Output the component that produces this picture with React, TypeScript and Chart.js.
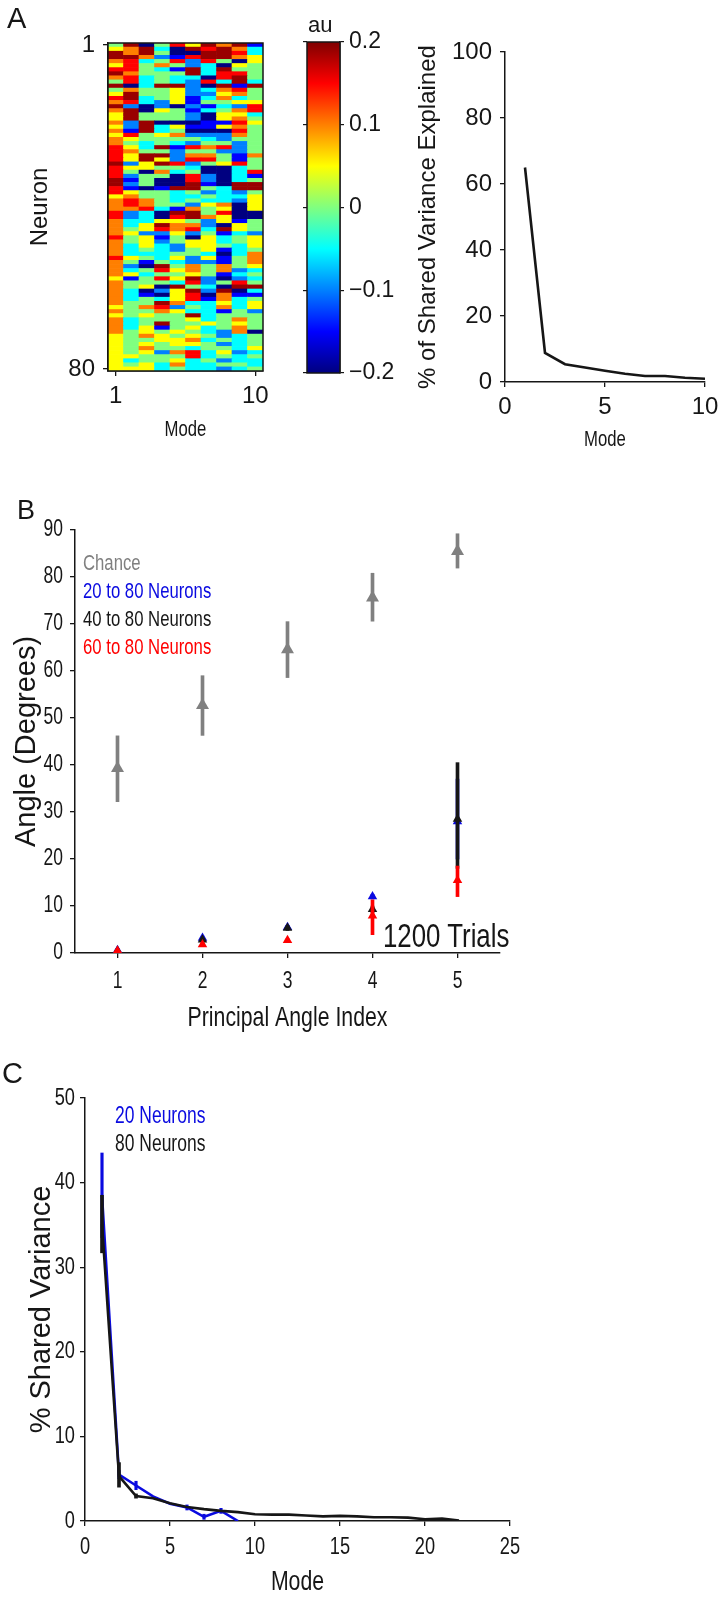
import React, { useEffect, useRef } from 'react';
import { Chart, registerables } from 'chart.js';

Chart.register(...registerables);

// ---------------- DATA ----------------
// Panel A (left): loading matrix, 80 neurons x 10 modes (au)
const neuronLoadings: number[][] = [
  [0.0, 0.19, -0.2, 0.0, 0.15, 0.05, 0.19, 0.1, 0.19, -0.15],
  [0.05, 0.1, 0.19, -0.05, -0.2, 0.19, 0.15, 0.19, 0.1, -0.05],
  [0.19, 0.1, 0.19, 0.0, -0.2, -0.2, 0.19, 0.19, 0.15, -0.05],
  [0.19, 0.19, 0.1, -0.1, -0.15, 0.15, 0.19, 0.19, 0.1, 0.05],
  [0.1, 0.15, -0.05, 0.0, 0.15, -0.1, 0.15, 0.0, -0.2, 0.05],
  [0.05, 0.15, 0.0, 0.1, 0.0, -0.1, -0.05, -0.2, 0.05, 0.0],
  [0.15, 0.15, 0.0, -0.05, -0.15, 0.19, -0.05, 0.19, 0.0, 0.0],
  [0.19, 0.1, 0.0, 0.0, 0.0, 0.19, -0.05, 0.15, 0.15, 0.0],
  [0.1, 0.15, -0.05, 0.0, -0.05, -0.05, -0.2, 0.15, 0.19, 0.0],
  [0.0, 0.15, -0.05, 0.0, -0.05, -0.1, 0.15, -0.05, 0.19, -0.05],
  [0.19, -0.2, -0.05, 0.19, 0.19, -0.1, -0.2, 0.19, -0.15, 0.19],
  [0.0, 0.1, 0.0, 0.0, 0.05, -0.1, -0.05, 0.1, 0.15, 0.0],
  [0.05, 0.19, 0.0, 0.0, 0.05, -0.1, -0.1, 0.05, 0.1, 0.0],
  [0.15, 0.19, -0.05, 0.0, 0.05, -0.15, -0.05, 0.1, -0.05, 0.0],
  [0.1, 0.15, -0.05, -0.1, 0.05, -0.15, 0.0, 0.0, 0.05, 0.05],
  [0.19, -0.1, -0.2, -0.1, -0.2, -0.1, -0.15, -0.05, -0.1, 0.15],
  [0.1, 0.19, -0.2, 0.05, 0.0, -0.15, -0.05, 0.0, 0.1, 0.15],
  [0.05, 0.19, 0.0, 0.0, 0.0, -0.1, -0.2, 0.05, 0.05, -0.05],
  [0.05, 0.19, 0.0, 0.0, 0.0, -0.1, -0.2, 0.05, 0.1, 0.0],
  [0.1, -0.1, 0.19, -0.2, -0.2, -0.2, -0.15, -0.15, 0.15, 0.05],
  [0.05, -0.1, 0.19, -0.05, 0.05, -0.15, -0.15, 0.05, 0.1, 0.0],
  [0.1, -0.15, 0.19, -0.05, 0.0, -0.2, -0.2, -0.2, 0.15, 0.0],
  [0.05, 0.15, 0.0, 0.05, 0.1, -0.1, -0.1, -0.1, 0.1, 0.0],
  [0.1, 0.05, 0.0, 0.0, 0.0, 0.0, -0.05, -0.1, 0.0, 0.0],
  [0.1, 0.0, -0.05, 0.0, -0.05, -0.1, 0.0, 0.0, -0.1, 0.0],
  [0.15, 0.05, -0.05, 0.19, -0.15, 0.15, 0.1, 0.15, -0.1, 0.0],
  [0.15, 0.1, 0.0, 0.0, -0.1, 0.0, 0.0, -0.1, -0.1, 0.0],
  [0.15, 0.05, 0.19, 0.19, -0.1, 0.1, 0.1, 0.0, -0.15, 0.1],
  [0.15, 0.05, 0.19, 0.05, -0.1, 0.15, 0.15, 0.0, -0.15, 0.0],
  [0.19, -0.1, 0.05, 0.19, 0.15, -0.1, 0.0, 0.05, 0.15, 0.0],
  [0.15, 0.05, 0.05, 0.0, 0.0, -0.05, -0.2, -0.2, -0.05, 0.0],
  [0.15, 0.0, -0.2, 0.1, -0.05, 0.0, -0.2, -0.2, -0.05, 0.15],
  [0.15, -0.1, 0.0, 0.0, -0.2, 0.15, -0.1, -0.2, -0.05, -0.15],
  [0.19, -0.15, 0.0, -0.2, -0.2, 0.15, -0.1, -0.2, -0.05, 0.0],
  [0.19, -0.1, 0.0, -0.2, -0.2, 0.19, -0.15, -0.2, 0.19, 0.19],
  [0.15, -0.15, -0.2, -0.15, 0.19, 0.19, 0.0, -0.05, 0.19, 0.19],
  [0.15, 0.05, 0.0, 0.0, -0.05, 0.0, -0.1, -0.05, -0.1, 0.0],
  [0.05, 0.1, 0.0, 0.0, -0.05, -0.05, 0.0, -0.05, -0.05, 0.05],
  [0.1, 0.15, 0.1, 0.0, -0.05, 0.0, -0.05, -0.05, -0.1, 0.05],
  [0.1, 0.15, 0.1, 0.0, 0.0, -0.1, 0.05, 0.1, -0.2, 0.05],
  [0.1, 0.1, 0.15, -0.05, -0.15, 0.1, 0.0, 0.05, -0.2, 0.05],
  [0.15, -0.1, -0.05, -0.2, 0.19, 0.19, 0.0, 0.15, -0.2, -0.2],
  [0.15, -0.1, -0.05, -0.2, 0.15, 0.19, 0.1, 0.05, -0.2, -0.2],
  [0.1, -0.05, -0.05, 0.05, 0.05, 0.0, -0.1, 0.05, -0.15, 0.0],
  [0.1, -0.05, 0.05, 0.19, 0.1, 0.1, -0.1, -0.2, 0.05, 0.0],
  [0.1, 0.0, 0.05, 0.15, 0.1, 0.15, -0.05, 0.19, 0.05, 0.0],
  [0.1, 0.05, -0.1, -0.1, 0.05, -0.1, 0.0, -0.15, -0.05, -0.1],
  [0.15, 0.0, 0.05, -0.15, 0.0, -0.2, 0.05, -0.05, 0.0, 0.05],
  [0.1, 0.0, 0.05, -0.1, 0.0, 0.05, 0.05, -0.05, 0.0, 0.05],
  [0.1, -0.05, 0.05, -0.05, -0.1, 0.05, 0.05, 0.0, -0.05, 0.05],
  [0.1, -0.05, 0.0, -0.05, -0.1, 0.0, 0.05, -0.15, -0.05, 0.0],
  [0.1, -0.05, -0.05, -0.05, 0.0, 0.0, -0.05, -0.2, -0.05, 0.1],
  [0.15, 0.05, 0.0, -0.05, 0.05, -0.1, 0.05, -0.15, 0.0, 0.1],
  [0.1, 0.0, -0.15, 0.0, -0.05, -0.1, -0.1, -0.15, 0.0, 0.1],
  [0.1, -0.1, -0.2, 0.19, 0.0, 0.1, 0.0, 0.1, 0.0, 0.05],
  [0.1, -0.05, 0.0, 0.15, 0.05, 0.1, 0.0, 0.1, -0.1, -0.05],
  [0.1, 0.05, -0.05, 0.0, 0.0, 0.05, 0.0, -0.15, -0.05, 0.0],
  [0.05, -0.15, 0.0, 0.15, 0.05, 0.19, -0.1, -0.2, -0.1, -0.05],
  [0.1, 0.0, 0.0, 0.0, -0.05, 0.15, -0.1, 0.0, 0.15, 0.0],
  [0.1, 0.0, 0.05, -0.2, 0.19, 0.0, -0.05, -0.2, 0.19, 0.19],
  [0.1, -0.05, -0.2, -0.1, 0.05, 0.19, -0.1, 0.19, -0.2, -0.05],
  [0.1, -0.05, -0.15, -0.2, 0.05, 0.15, -0.2, 0.1, -0.15, -0.15],
  [0.1, -0.05, 0.0, -0.05, 0.05, 0.15, -0.15, 0.1, -0.05, 0.0],
  [0.1, 0.0, 0.0, 0.19, 0.1, -0.05, -0.05, 0.05, -0.05, 0.05],
  [0.05, 0.0, 0.1, 0.15, -0.1, 0.0, -0.05, 0.1, -0.05, 0.05],
  [0.1, 0.0, 0.0, 0.1, 0.05, -0.05, -0.05, -0.15, 0.0, -0.1],
  [0.05, 0.0, 0.05, 0.0, 0.0, 0.19, -0.05, 0.0, 0.0, 0.0],
  [0.1, -0.05, 0.0, 0.0, 0.0, 0.05, -0.05, 0.0, 0.1, 0.0],
  [0.1, -0.05, 0.0, 0.19, 0.0, 0.0, 0.05, 0.0, 0.05, 0.0],
  [0.1, -0.05, 0.05, -0.15, 0.0, 0.05, -0.05, 0.0, 0.1, 0.0],
  [0.1, 0.0, 0.05, 0.0, 0.05, 0.0, -0.05, -0.1, 0.1, -0.2],
  [0.05, 0.0, 0.1, 0.05, 0.0, 0.05, 0.0, -0.1, -0.05, 0.0],
  [0.05, 0.0, 0.0, 0.05, 0.05, 0.1, -0.05, 0.0, -0.05, 0.0],
  [0.05, 0.0, 0.05, 0.0, 0.05, 0.05, 0.0, -0.1, -0.05, 0.0],
  [0.05, 0.0, 0.1, 0.0, 0.0, -0.05, 0.0, 0.0, -0.05, 0.05],
  [0.05, 0.0, 0.05, -0.1, 0.1, 0.15, -0.05, 0.05, -0.1, -0.05],
  [0.05, 0.05, 0.0, 0.0, 0.0, 0.15, -0.05, 0.0, -0.05, 0.0],
  [0.05, -0.05, 0.0, 0.0, 0.05, -0.05, 0.0, -0.1, -0.05, -0.05],
  [0.05, 0.0, 0.05, -0.05, 0.1, -0.05, -0.05, 0.0, 0.0, -0.05],
  [0.05, 0.05, 0.05, -0.05, 0.0, -0.05, -0.05, -0.1, -0.05, 0.0],
];
const heatXTicks = [1, 10];
const heatYTicks = [1, 80];
const colorbarTicks = [-0.2, -0.1, 0, 0.1, 0.2];

// Panel A (right)
const modes = [1, 2, 3, 4, 5, 6, 7, 8, 9, 10];
const sharedVarExplained = [65, 8.8, 5.4, 4.4, 3.4, 2.5, 1.8, 1.8, 1.3, 1.0];

// Panel B
const angleIndex = [1, 2, 3, 4, 5];
const chanceMean = [39.3, 52.7, 64.6, 75.6, 85.5];
const chanceLo = [32.2, 46.3, 58.6, 70.6, 81.9];
const chanceHi = [46.2, 59.0, 70.5, 80.8, 89.2];
const n20Mean = [0.6, 3.2, 5.5, 12.0, 28.0];
const n20Lo = [0.3, 2.8, 5.1, 11.5, 20.0];
const n20Hi = [0.9, 3.6, 5.9, 12.5, 37.0];
const n40Mean = [0.4, 2.8, 5.3, 9.3, 28.5];
const n40Lo = [0.2, 2.4, 4.8, 8.6, 18.0];
const n40Hi = [0.6, 3.2, 5.8, 10.0, 40.5];
const n60Mean = [0.5, 1.8, 2.7, 7.9, 15.5];
const n60Lo = [0.3, 1.4, 2.3, 3.9, 12.0];
const n60Hi = [0.7, 2.2, 3.1, 11.3, 18.5];

// Panel C
const modes20 = [1, 2, 3, 4, 5, 6, 7, 8, 9];
const shared20 = [38.5, 5.5, 4.2, 2.9, 2.05, 1.6, 0.5, 1.2, 0.0];
const err20X = [1, 2, 3, 6, 7, 8];
const err20Lo = [33.5, 5.0, 3.7, 1.3, 0.2, 0.9];
const err20Hi = [43.5, 6.0, 4.7, 1.9, 0.8, 1.5];
const modes80 = [1, 2, 3, 4, 5, 6, 7, 8, 9, 10, 11, 12, 13, 14, 15, 16, 17, 18, 19, 20, 21, 22];
const shared80 = [35.1, 5.3, 2.95, 2.7, 2.1, 1.65, 1.4, 1.2, 1.05, 0.8, 0.75, 0.75, 0.65, 0.55, 0.6, 0.55, 0.45, 0.45, 0.4, 0.2, 0.3, 0.05];
const err80X = [1, 2, 3];
const err80Lo = [31.7, 4.0, 2.7];
const err80Hi = [38.5, 6.9, 3.2];

// ---------------- STYLE ----------------
const SANS = "'Liberation Sans', Arial, Helvetica, sans-serif";
// "NarrowFace" is not an installed font: it only marks text that is drawn horizontally condensed
const NARROW = "NarrowFace, 'Liberation Sans', Arial, sans-serif";
const NARROW_RATIO = 0.76;
const INK = '#161616';
const GRAY = '#808080';
const BLUE = '#0a0ae0';
const RED = '#ff0000';

Chart.defaults.font.family = SANS;
Chart.defaults.color = INK;

function jet(t: number): string {
  const c = (x: number) => Math.round(255 * Math.max(0, Math.min(1, x)));
  const r = c(1.5 - Math.abs(4 * t - 3));
  const g = c(1.5 - Math.abs(4 * t - 2));
  const b = c(1.5 - Math.abs(4 * t - 1));
  return `rgb(${r},${g},${b})`;
}
const valueToColor = (v: number) => jet((v + 0.2) / 0.4);

const narrowTextPlugin = {
  id: 'narrowText',
  beforeInit(chart: any) {
    const ctx = chart.ctx;
    const orig = ctx.fillText.bind(ctx);
    ctx.fillText = (text: string, x: number, y: number, maxWidth?: number) => {
      if (String(ctx.font).indexOf('NarrowFace') >= 0) {
        ctx.save();
        ctx.translate(x, y);
        ctx.scale(NARROW_RATIO, 1);
        orig(text, 0, 0);
        ctx.restore();
      } else if (maxWidth !== undefined) {
        orig(text, x, y, maxWidth);
      } else {
        orig(text, x, y);
      }
    };
  },
};

const framePlugin = {
  id: 'frame',
  afterDatasetsDraw(chart: any) {
    const { ctx, chartArea: a } = chart;
    ctx.save();
    ctx.strokeStyle = INK;
    ctx.lineWidth = 1.5;
    ctx.strokeRect(a.left, a.top, a.right - a.left, a.bottom - a.top);
    ctx.restore();
  },
};

function axisBase(extra: any) {
  return {
    grid: { display: true, drawOnChartArea: false, drawTicks: true, tickLength: 5, color: INK, lineWidth: 1.3, offset: false },
    border: { display: true, color: INK, width: 1.5 },
    ...extra,
  };
}

function ChartCanvas({ left, top, width, height, make }: any) {
  const ref = useRef<HTMLCanvasElement>(null);
  useEffect(() => {
    const cfg = make();
    cfg.plugins = [narrowTextPlugin, ...(cfg.plugins || [])];
    const chart = new Chart(ref.current as HTMLCanvasElement, cfg);
    return () => chart.destroy();
  }, []);
  return (
    <canvas
      ref={ref}
      width={width}
      height={height}
      style={{ position: 'absolute', left, top, width, height }}
    />
  );
}

const noPlugins = { legend: { display: false }, tooltip: { enabled: false }, title: { display: false } };

// ---------------- CHARTS ----------------
function heatmapConfig(): any {
  const data: any[] = [];
  neuronLoadings.forEach((row, r) =>
    row.forEach((v, c) => data.push({ x: c + 1, y: [r + 0.5, r + 1.5], v }))
  );
  return {
    type: 'bar',
    data: {
      datasets: [
        {
          data,
          backgroundColor: (ctx: any) => valueToColor(ctx.raw ? ctx.raw.v : 0),
          borderWidth: 0,
          barPercentage: 1,
          categoryPercentage: 1,
        },
      ],
    },
    options: {
      responsive: false,
      animation: false,
      layout: { padding: { left: 0, right: 27, top: 43, bottom: 7 } },
      plugins: noPlugins,
      scales: {
        x: axisBase({
          type: 'linear', min: 0.5, max: 10.5, offset: false,
          afterBuildTicks: (s: any) => { s.ticks = heatXTicks.map((value) => ({ value })); },
          afterFit: (s: any) => { s.height = 72; },
          ticks: { font: { family: SANS, size: 24 }, color: INK, padding: 6, maxRotation: 0, autoSkip: false },
          title: { display: true, text: 'Mode', font: { family: NARROW, size: 22 }, color: INK, padding: 0 },
        }),
        y: axisBase({
          type: 'linear', min: 0.5, max: 80.5, reverse: true,
          afterBuildTicks: (s: any) => { s.ticks = heatYTicks.map((value) => ({ value })); },
          afterFit: (s: any) => { s.width = 108; },
          ticks: { font: { family: SANS, size: 24 }, color: INK, padding: 8, autoSkip: false },
          title: { display: true, text: 'Neuron', font: { family: SANS, size: 24 }, color: INK, padding: { top: 26, bottom: 0 } },
        }),
      },
    },
    plugins: [framePlugin],
  };
}

function colorbarConfig(): any {
  return {
    type: 'bar',
    data: {
      labels: ['au'],
      datasets: [
        {
          data: [[colorbarTicks[0], colorbarTicks[colorbarTicks.length - 1]]],
          backgroundColor: (ctx: any) => {
            const chart = ctx.chart;
            if (!chart.chartArea) return '#888';
            const y = chart.scales.y;
            const g = chart.ctx.createLinearGradient(
              0, y.getPixelForValue(colorbarTicks[0]), 0, y.getPixelForValue(colorbarTicks[colorbarTicks.length - 1])
            );
            for (let i = 0; i <= 64; i++) g.addColorStop(i / 64, jet(i / 64));
            return g;
          },
          borderWidth: 0,
          barPercentage: 1,
          categoryPercentage: 1,
        },
      ],
    },
    options: {
      responsive: false,
      animation: false,
      layout: { padding: { left: 13, right: 5, top: 42, bottom: 27 } },
      plugins: noPlugins,
      scales: {
        x: { display: false },
        yl: {
          position: 'left',
          min: colorbarTicks[0], max: colorbarTicks[colorbarTicks.length - 1],
          afterBuildTicks: (s: any) => { s.ticks = colorbarTicks.map((value) => ({ value })); },
          afterFit: (s: any) => { s.width = 4; },
          grid: { display: true, drawOnChartArea: false, drawTicks: true, tickLength: 4, color: INK, lineWidth: 1.2 },
          border: { display: false },
          ticks: { display: false },
        },
        y: axisBase({
          position: 'right',
          min: colorbarTicks[0], max: colorbarTicks[colorbarTicks.length - 1],
          afterBuildTicks: (s: any) => { s.ticks = colorbarTicks.map((value) => ({ value })); },
          afterFit: (s: any) => { s.width = 60; },
          grid: { display: true, drawOnChartArea: false, drawTicks: true, tickLength: 4, color: INK, lineWidth: 1.2 },
          ticks: {
            font: { family: SANS, size: 23 }, color: INK, padding: 5, autoSkip: false,
            callback: (v: number) => (Math.abs(v) < 1e-9 ? '0' : (v < 0 ? '\u2212' : '') + Math.abs(v).toFixed(1)),
          },
        }),
      },
    },
    plugins: [framePlugin],
  };
}

function varianceConfig(): any {
  return {
    type: 'line',
    data: {
      datasets: [
        {
          data: modes.map((m, i) => ({ x: m, y: sharedVarExplained[i] })),
          borderColor: INK, borderWidth: 2.6, pointRadius: 0, tension: 0, fill: false,
        },
      ],
    },
    options: {
      responsive: false,
      animation: false,
      layout: { padding: { left: 10, right: 22, top: 52, bottom: 7 } },
      plugins: noPlugins,
      scales: {
        x: axisBase({
          type: 'linear', min: 0, max: 10,
          afterFit: (s: any) => { s.height = 71; },
          ticks: { stepSize: 5, font: { family: SANS, size: 24 }, color: INK, padding: 6, maxRotation: 0 },
          title: { display: true, text: 'Mode', font: { family: NARROW, size: 22 }, color: INK, padding: 0 },
        }),
        y: axisBase({
          type: 'linear', min: 0, max: 100,
          afterFit: (s: any) => { s.width = 95; },
          ticks: { stepSize: 20, font: { family: SANS, size: 24 }, color: INK, padding: 8 },
          title: { display: true, text: '% of Shared Variance Explained', font: { family: SANS, size: 24 }, color: INK, padding: { top: 4, bottom: 0 } },
        }),
      },
    },
  };
}

function errBars(xs: number[], lo: number[], hi: number[], color: string, order: number, thick = 3) {
  return {
    type: 'bar',
    data: xs.map((x, i) => ({ x, y: [lo[i], hi[i]] })),
    backgroundColor: color,
    borderWidth: 0,
    barThickness: thick,
    grouped: false,
    order,
  };
}
function triangles(xs: number[], ys: number[], color: string, order: number, r: number) {
  return {
    type: 'scatter',
    data: xs.map((x, i) => ({ x, y: ys[i] })),
    pointStyle: 'triangle',
    pointRadius: r,
    pointBackgroundColor: color,
    pointBorderColor: color,
    pointBorderWidth: 0,
    showLine: false,
    order,
  };
}

function anglesConfig(): any {
  return {
    type: 'scatter',
    data: {
      datasets: [
        errBars(angleIndex, chanceLo, chanceHi, GRAY, 8, 3),
        triangles(angleIndex, chanceMean, GRAY, 7, 7.5),
        errBars(angleIndex, n20Lo, n20Hi, BLUE, 6, 3),
        triangles(angleIndex, n20Mean, BLUE, 5, 5.5),
        errBars(angleIndex, n40Lo, n40Hi, INK, 4, 3),
        triangles(angleIndex, n40Mean, INK, 3, 5.5),
        errBars(angleIndex, n60Lo, n60Hi, RED, 2, 3),
        triangles(angleIndex, n60Mean, RED, 1, 5.5),
      ],
    },
    options: {
      responsive: false,
      animation: false,
      layout: { padding: { left: 0, right: 227, top: 50, bottom: 5 } },
      plugins: noPlugins,
      scales: {
        x: axisBase({
          type: 'linear', min: 0.5, max: 5.5, offset: false,
          afterBuildTicks: (s: any) => { s.ticks = angleIndex.map((value) => ({ value })); },
          afterFit: (s: any) => { s.height = 82; },
          ticks: { font: { family: NARROW, size: 23 }, color: INK, padding: 10, maxRotation: 0, autoSkip: false },
          title: { display: true, text: 'Principal Angle Index', font: { family: NARROW, size: 28 }, color: INK, padding: 0 },
        }),
        y: axisBase({
          type: 'linear', min: 0, max: 90,
          afterFit: (s: any) => { s.width = 75; },
          ticks: { stepSize: 10, font: { family: NARROW, size: 23 }, color: INK, padding: 7 },
          title: { display: true, text: 'Angle (Degrees)', font: { family: SANS, size: 29 }, color: INK, padding: { top: 10, bottom: 0 } },
        }),
      },
    },
  };
}

function sharedConfig(): any {
  return {
    type: 'scatter',
    data: {
      datasets: [
        errBars(err80X, err80Lo, err80Hi, INK, 1, 3),
        {
          type: 'line',
          data: modes80.map((m, i) => ({ x: m, y: shared80[i] })),
          borderColor: INK, borderWidth: 2.6, pointRadius: 0, tension: 0, showLine: true, order: 2,
        },
        errBars(err20X, err20Lo, err20Hi, BLUE, 3, 2.5),
        {
          type: 'line',
          data: modes20.map((m, i) => ({ x: m, y: shared20[i] })),
          borderColor: BLUE, borderWidth: 2.6, pointRadius: 0, tension: 0, showLine: true, order: 4,
        },
      ],
    },
    options: {
      responsive: false,
      animation: false,
      layout: { padding: { left: 0, right: 217, top: 38, bottom: 0 } },
      plugins: noPlugins,
      scales: {
        x: axisBase({
          type: 'linear', min: 0, max: 25, offset: false,
          afterFit: (s: any) => { s.height = 78; },
          ticks: { stepSize: 5, font: { family: NARROW, size: 24 }, color: INK, padding: 7, maxRotation: 0 },
          title: { display: true, text: 'Mode', font: { family: NARROW, size: 28 }, color: INK, padding: 0 },
        }),
        y: axisBase({
          type: 'linear', min: 0, max: 50,
          afterFit: (s: any) => { s.width = 85; },
          ticks: { stepSize: 10, font: { family: NARROW, size: 24 }, color: INK, padding: 5 },
          title: { display: true, text: '% Shared Variance', font: { family: SANS, size: 29 }, color: INK, padding: { top: 25, bottom: 0 } },
        }),
      },
    },
  };
}

function Label({ x, y, size, narrow = false, color = INK, children }: any) {
  return (
    <div
      style={{
        position: 'absolute', left: x, top: y, fontSize: size, fontFamily: SANS, color,
        lineHeight: 1, whiteSpace: 'nowrap',
        transform: narrow ? `scaleX(${NARROW_RATIO})` : undefined, transformOrigin: 'left center',
      }}
    >
      {children}
    </div>
  );
}

function LegendBlock({ x, y, size, items }: any) {
  return (
    <div
      style={{
        position: 'absolute', left: x, top: y, fontFamily: SANS, fontSize: size, lineHeight: '28px',
        whiteSpace: 'nowrap', transform: `scaleX(${NARROW_RATIO})`, transformOrigin: 'left top',
      }}
    >
      {items.map((it: any) => (
        <div key={it.text} style={{ color: it.color }}>{it.text}</div>
      ))}
    </div>
  );
}

export default function App() {
  return (
    <div style={{ position: 'absolute', left: 0, top: 0, width: 727, height: 1599, background: '#fff', overflow: 'hidden' }}>
      <ChartCanvas left={0} top={0} width={290} height={450} make={heatmapConfig} />
      <ChartCanvas left={290} top={0} width={115} height={400} make={colorbarConfig} />
      <ChartCanvas left={400} top={0} width={327} height={460} make={varianceConfig} />
      <ChartCanvas left={0} top={480} width={727} height={560} make={anglesConfig} />
      <ChartCanvas left={0} top={1060} width={727} height={539} make={sharedConfig} />

      <Label x={7} y={4} size={29}>A</Label>
      <Label x={308} y={14} size={22}>au</Label>
      <Label x={17} y={497} size={27}>B</Label>
      <Label x={2} y={1059} size={29}>C</Label>

      <LegendBlock
        x={83} y={549} size={22}
        items={[
          { text: 'Chance', color: GRAY },
          { text: '20 to 80 Neurons', color: BLUE },
          { text: '40 to 80 Neurons', color: INK },
          { text: '60 to 80 Neurons', color: RED },
        ]}
      />
      <Label x={383} y={918} size={34} narrow>1200 Trials</Label>

      <LegendBlock
        x={115} y={1101} size={23}
        items={[
          { text: '20 Neurons', color: BLUE },
          { text: '80 Neurons', color: INK },
        ]}
      />
    </div>
  );
}
